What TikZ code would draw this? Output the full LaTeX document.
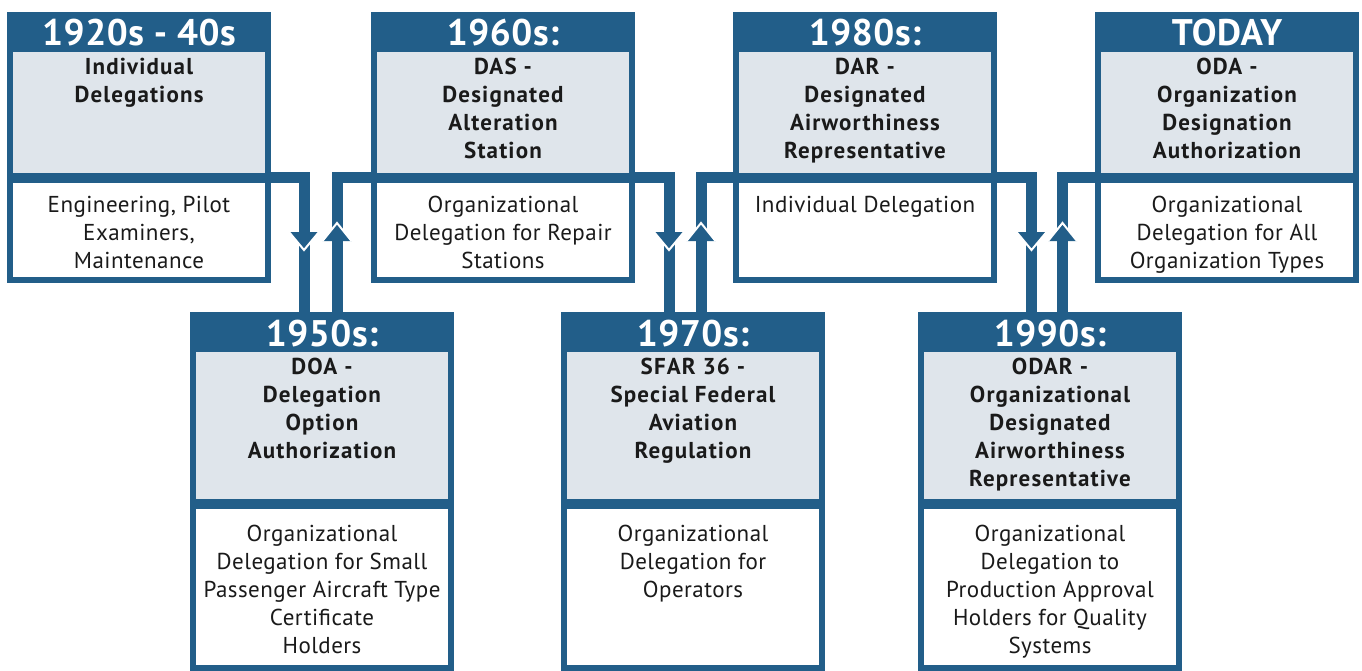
\documentclass[tikz,border=0pt]{standalone}
\usepackage{fontspec}
\setmainfont{PT Sans}
\usetikzlibrary{fit}
\definecolor{faablue}{HTML}{225E89}
\definecolor{faagray}{HTML}{DFE5EB}
\definecolor{txtcol}{HTML}{1A1A1A}
\tikzset{
  outerbox/.style={fill=faablue, inner sep=0pt, draw=none},
  grayreg/.style={fill=faagray, inner sep=0pt, draw=none},
  whitereg/.style={fill=white, inner sep=0pt, draw=none},
  divreg/.style={inner sep=0pt, draw=none},
  hdrtxt/.style={anchor=base, inner sep=0pt, text=white, font=\fontsize{37}{40}\selectfont\bfseries\addfontfeatures{LetterSpace=1.5}},
  graytxt/.style={anchor=north, inner sep=0pt, align=center, text=txtcol, font=\fontsize{23}{28}\selectfont\bfseries\addfontfeatures{LetterSpace=5}},
  whitetxt/.style={anchor=north, inner sep=0pt, align=center, text=txtcol, font=\fontsize{23}{28}\selectfont\addfontfeatures{LetterSpace=2}},
  conn/.style={draw=faablue, line width=11pt},
  headfill/.style={fill=faablue},
  headedge/.style={draw=white, line width=2pt},
}
% #1 name, #2 left, #3 top, #4 bottom, #5 divider top, #6 header, #7 gray text, #8 white text, #9 white baseline offset
\newcommand\tlbox[9]{%
  \node[outerbox, fit={(#2,#3) (#2+264,#4)}] (#1) {};
  \node[grayreg, fit={(#2+6,#3+40) (#2+258,#5)}] (#1g) {};
  \node[divreg, fit={(#2,#5) (#2+264,#5+10)}] (#1d) {};
  \node[whitereg, fit={(#2+6,#5+10) (#2+258,#4-6)}] (#1w) {};
  \node[hdrtxt] (#1h) at (#2+132,#3+34) {#6};
  \node[graytxt] (#1gt) at (#2+132,#3+62-19.6) {\strut#7};
  \node[whitetxt] (#1wt) at (#2+132,#5+#9-19.6) {\strut#8};
}
\newcommand\downhead[1]{%
  \fill[headfill] (#1) -- ++(-15,-18) -- ++(30,0) -- cycle;
  \draw[headedge] ([shift={(-15,-18)}]#1) -- (#1) -- ++(15,-18);
}
\newcommand\uphead[1]{%
  \fill[headfill] (#1) -- ++(-14.5,18) -- ++(29,0) -- cycle;
  \draw[headedge] ([shift={(-14.5,18)}]#1) -- (#1) -- ++(14.5,18);
}
\begin{document}
\begin{tikzpicture}[x=1pt,y=-1pt]
\useasboundingbox (0,0) rectangle (1362,671);
% top row
\tlbox{b1}{7}{12}{283}{173}{1920s - 40s}{Individual\\Delegations}{Engineering, Pilot\\Examiners,\\Maintenance}{39}
\tlbox{b3}{371}{12}{283}{173}{1960s:}{DAS -\\Designated\\Alteration\\Station}{Organizational\\Delegation for Repair\\Stations}{39}
\tlbox{b5}{733}{12}{283}{173}{1980s:}{DAR -\\Designated\\Airworthiness\\Representative}{Individual Delegation}{39}
\tlbox{b7}{1095}{12}{283}{173}{TODAY}{ODA -\\Organization\\Designation\\Authorization}{Organizational\\Delegation for All\\Organization Types}{39}
% bottom row
\tlbox{b2}{190}{312}{671}{499}{1950s:}{DOA -\\Delegation\\Option\\Authorization}{Organizational\\Delegation for Small\\Passenger Aircraft Type\\Certificate\\Holders}{42}
\tlbox{b4}{561}{312}{671}{499}{1970s:}{SFAR 36 -\\Special Federal\\Aviation\\Regulation}{Organizational\\Delegation for\\Operators}{42}
\tlbox{b6}{918}{312}{671}{499}{1990s:}{ODAR -\\Organizational\\Designated\\Airworthiness\\Representative}{Organizational\\Delegation to\\Production Approval\\Holders for Quality\\Systems}{42}
% stem positions
\coordinate (d1) at (304,0);   \coordinate (u1) at (337,0);
\coordinate (d2) at (669,0);   \coordinate (u2) at (701,0);
\coordinate (d3) at (1031.5,0); \coordinate (u3) at (1062.5,0);
% connectors
\draw[conn] (b1d.east) -| (d1 |- b2.north);
\draw[conn] (u1 |- b2.north) |- (b3d.west);
\draw[conn] (b3d.east) -| (d2 |- b4.north);
\draw[conn] (u2 |- b4.north) |- (b5d.west);
\draw[conn] (b5d.east) -| (d3 |- b6.north);
\draw[conn] (u3 |- b6.north) |- (b7d.west);
% arrow heads
\coordinate (a1d) at (304,250);   \coordinate (a1u) at (337,223);
\coordinate (a2d) at (669,250);   \coordinate (a2u) at (701,223);
\coordinate (a3d) at (1031.5,250); \coordinate (a3u) at (1062.5,223);
\downhead{a1d}\uphead{a1u}
\downhead{a2d}\uphead{a2u}
\downhead{a3d}\uphead{a3u}
\end{tikzpicture}
\end{document}
